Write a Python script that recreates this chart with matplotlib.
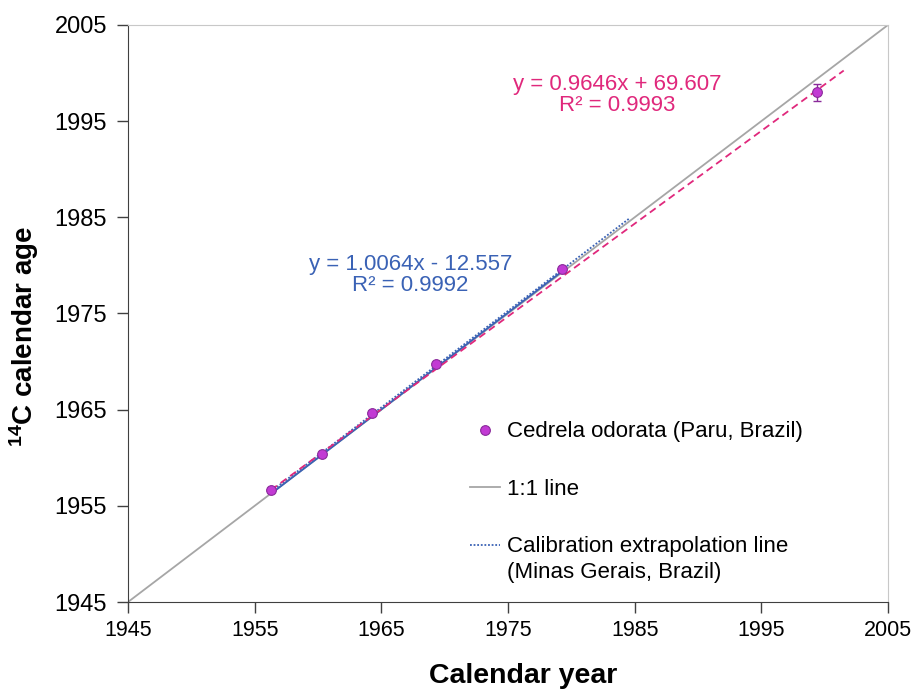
import matplotlib
matplotlib.use("Agg")
import matplotlib.pyplot as plt
import numpy as np

plt.rcParams['font.family'] = ['Liberation Sans', 'DejaVu Sans']
plt.rcParams['mathtext.fontset'] = 'custom'
plt.rcParams['mathtext.rm'] = 'Liberation Sans'
plt.rcParams['mathtext.bf'] = 'Liberation Sans:bold'

# Cedrela odorata samples (calendar year, 14C calendar age)
cal_year = [1956.3, 1960.3, 1964.3, 1969.3, 1979.3, 1999.4]
c14_age = [1956.6, 1960.4, 1964.7, 1969.7, 1979.6, 1998.0]
c14_err = [0.0, 0.0, 0.0, 0.0, 0.0, 0.9]

# trend lines as given on the chart
pink_slope, pink_icpt = 0.9646, 69.607
blue_slope, blue_icpt = 1.0064, -12.557
pink_range = [1956.3, 2001.5]
blue_range = [1956.3, 1979.3]

# calibration extrapolation line (Minas Gerais)
calib_x = [1956.3, 1984.6]
calib_y = [1956.5, 1984.9]

ticks = [1945, 1955, 1965, 1975, 1985, 1995, 2005]

PINK = '#e0287c'
BLUE = '#3a62b5'

fig = plt.figure(figsize=(9.14, 6.92), dpi=100)
ax = fig.add_axes([0.140, 0.130, 0.8316, 0.834])

ax.plot([1945, 2005], [1945, 2005], color='#a6a6a6', lw=1.3, label='1:1 line', zorder=2)

bx = np.array(blue_range)
ax.plot(bx, blue_slope * bx + blue_icpt, color=BLUE, lw=1.3, zorder=3)
ax.plot(calib_x, calib_y, color=BLUE, lw=1.3, ls=(0, (1, 1)),
        label='Calibration extrapolation line', zorder=3)

px = np.array(pink_range)
ax.plot(px, pink_slope * px + pink_icpt, color=PINK, lw=1.3, ls=(0, (4, 2.5)), zorder=3)

ax.errorbar(cal_year, c14_age, yerr=c14_err, fmt='none', ecolor='#8a2a9a',
            elinewidth=1, capsize=3, zorder=4)
ax.plot(cal_year, c14_age, 'o', ms=7, mfc='#c23ad4', mec='#8a2a9a', mew=0.8, zorder=5,
        label='Cedrela odorata (Paru, Brazil)')

ax.text(1967.3, 1979.05, 'y = 1.0064x - 12.557\nR² = 0.9992', color=BLUE,
        fontsize=16, ha='center', va='center', linespacing=1.0)
ax.text(1983.6, 1997.75, 'y = 0.9646x + 69.607\nR² = 0.9993', color=PINK,
        fontsize=16, ha='center', va='center', linespacing=1.0)

ax.set_xlim(1945, 2005)
ax.set_ylim(1945, 2005)
ax.set_xticks(ticks)
ax.set_yticks(ticks)
ax.tick_params(direction='out', length=8, width=1, color='#404040', pad=6)
ax.tick_params(axis='x', labelsize=15.5, pad=5)
ax.tick_params(axis='y', labelsize=17, pad=7)
for s in ['left', 'bottom']:
    ax.spines[s].set_color('#404040')
for s in ['top', 'right']:
    ax.spines[s].set_color('#c8c8c8')

ax.set_xlabel('Calendar year', fontsize=20.5, fontweight='bold')
ax.xaxis.set_label_coords(0.52, -0.106)
ax.set_ylabel(r'$\mathbf{^{14}}$C calendar age', fontsize=20, fontweight='bold')
ax.yaxis.set_label_coords(-0.114, 0.461)

h, l = ax.get_legend_handles_labels()
order = [2, 0, 1]
ax.legend([h[i] for i in order], [l[i] for i in order], loc='upper left',
          bbox_to_anchor=(0.45, 0.313), frameon=False, fontsize=16,
          labelspacing=1.64, handlelength=1.35, handletextpad=0.3,
          borderpad=0, borderaxespad=0)
ax.text(0.499, 0.051, '(Minas Gerais, Brazil)', transform=ax.transAxes,
        fontsize=16, va='center', ha='left')

fig.savefig('out.png', dpi=100)
